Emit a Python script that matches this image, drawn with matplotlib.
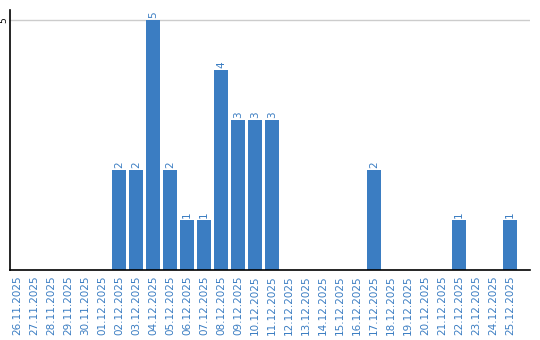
import matplotlib.pyplot as plt

dates = ["26.11.2025", "27.11.2025", "28.11.2025", "29.11.2025", "30.11.2025",
         "01.12.2025", "02.12.2025", "03.12.2025", "04.12.2025", "05.12.2025",
         "06.12.2025", "07.12.2025", "08.12.2025", "09.12.2025", "10.12.2025",
         "11.12.2025", "12.12.2025", "13.12.2025", "14.12.2025", "15.12.2025",
         "16.12.2025", "17.12.2025", "18.12.2025", "19.12.2025", "20.12.2025",
         "21.12.2025", "22.12.2025", "23.12.2025", "24.12.2025", "25.12.2025"]
counts = [0, 0, 0, 0, 0, 0, 2, 2, 5, 2, 1, 1, 4, 3, 3, 3, 0, 0, 0, 0,
          0, 2, 0, 0, 0, 0, 1, 0, 0, 1]

blue = "#3b7dc2"

fig = plt.figure(figsize=(5.4, 3.4), dpi=100)
ax = fig.add_axes([0.0185, 0.206, 0.963, 0.765])

x = list(range(len(dates)))
ax.bar(x, counts, width=0.82, color=blue, zorder=2)
for i, c in zip(x, counts):
    if c > 0:
        ax.text(i, c + 0.03, str(c), rotation=90, ha="center", va="bottom",
                color=blue, fontsize=7.5)

ax.set_xlim(-0.41, 30.18)
ax.set_ylim(0, 5.2)
ax.set_yticks([5])
ax.set_yticklabels(["5"], rotation=90, va="center", fontsize=6.5)
ax.yaxis.grid(True, color="#cccccc", linewidth=1, zorder=0)
ax.tick_params(axis="y", length=0, pad=1)

ax.set_xticks(x)
ax.set_xticklabels(dates, rotation=90, color=blue, fontsize=7.5)
ax.tick_params(axis="x", length=0, pad=4)

ax.spines["top"].set_visible(False)
ax.spines["right"].set_visible(False)
ax.spines["left"].set_linewidth(1.2)
ax.spines["bottom"].set_linewidth(1.2)

fig.savefig("out.png", dpi=100)
